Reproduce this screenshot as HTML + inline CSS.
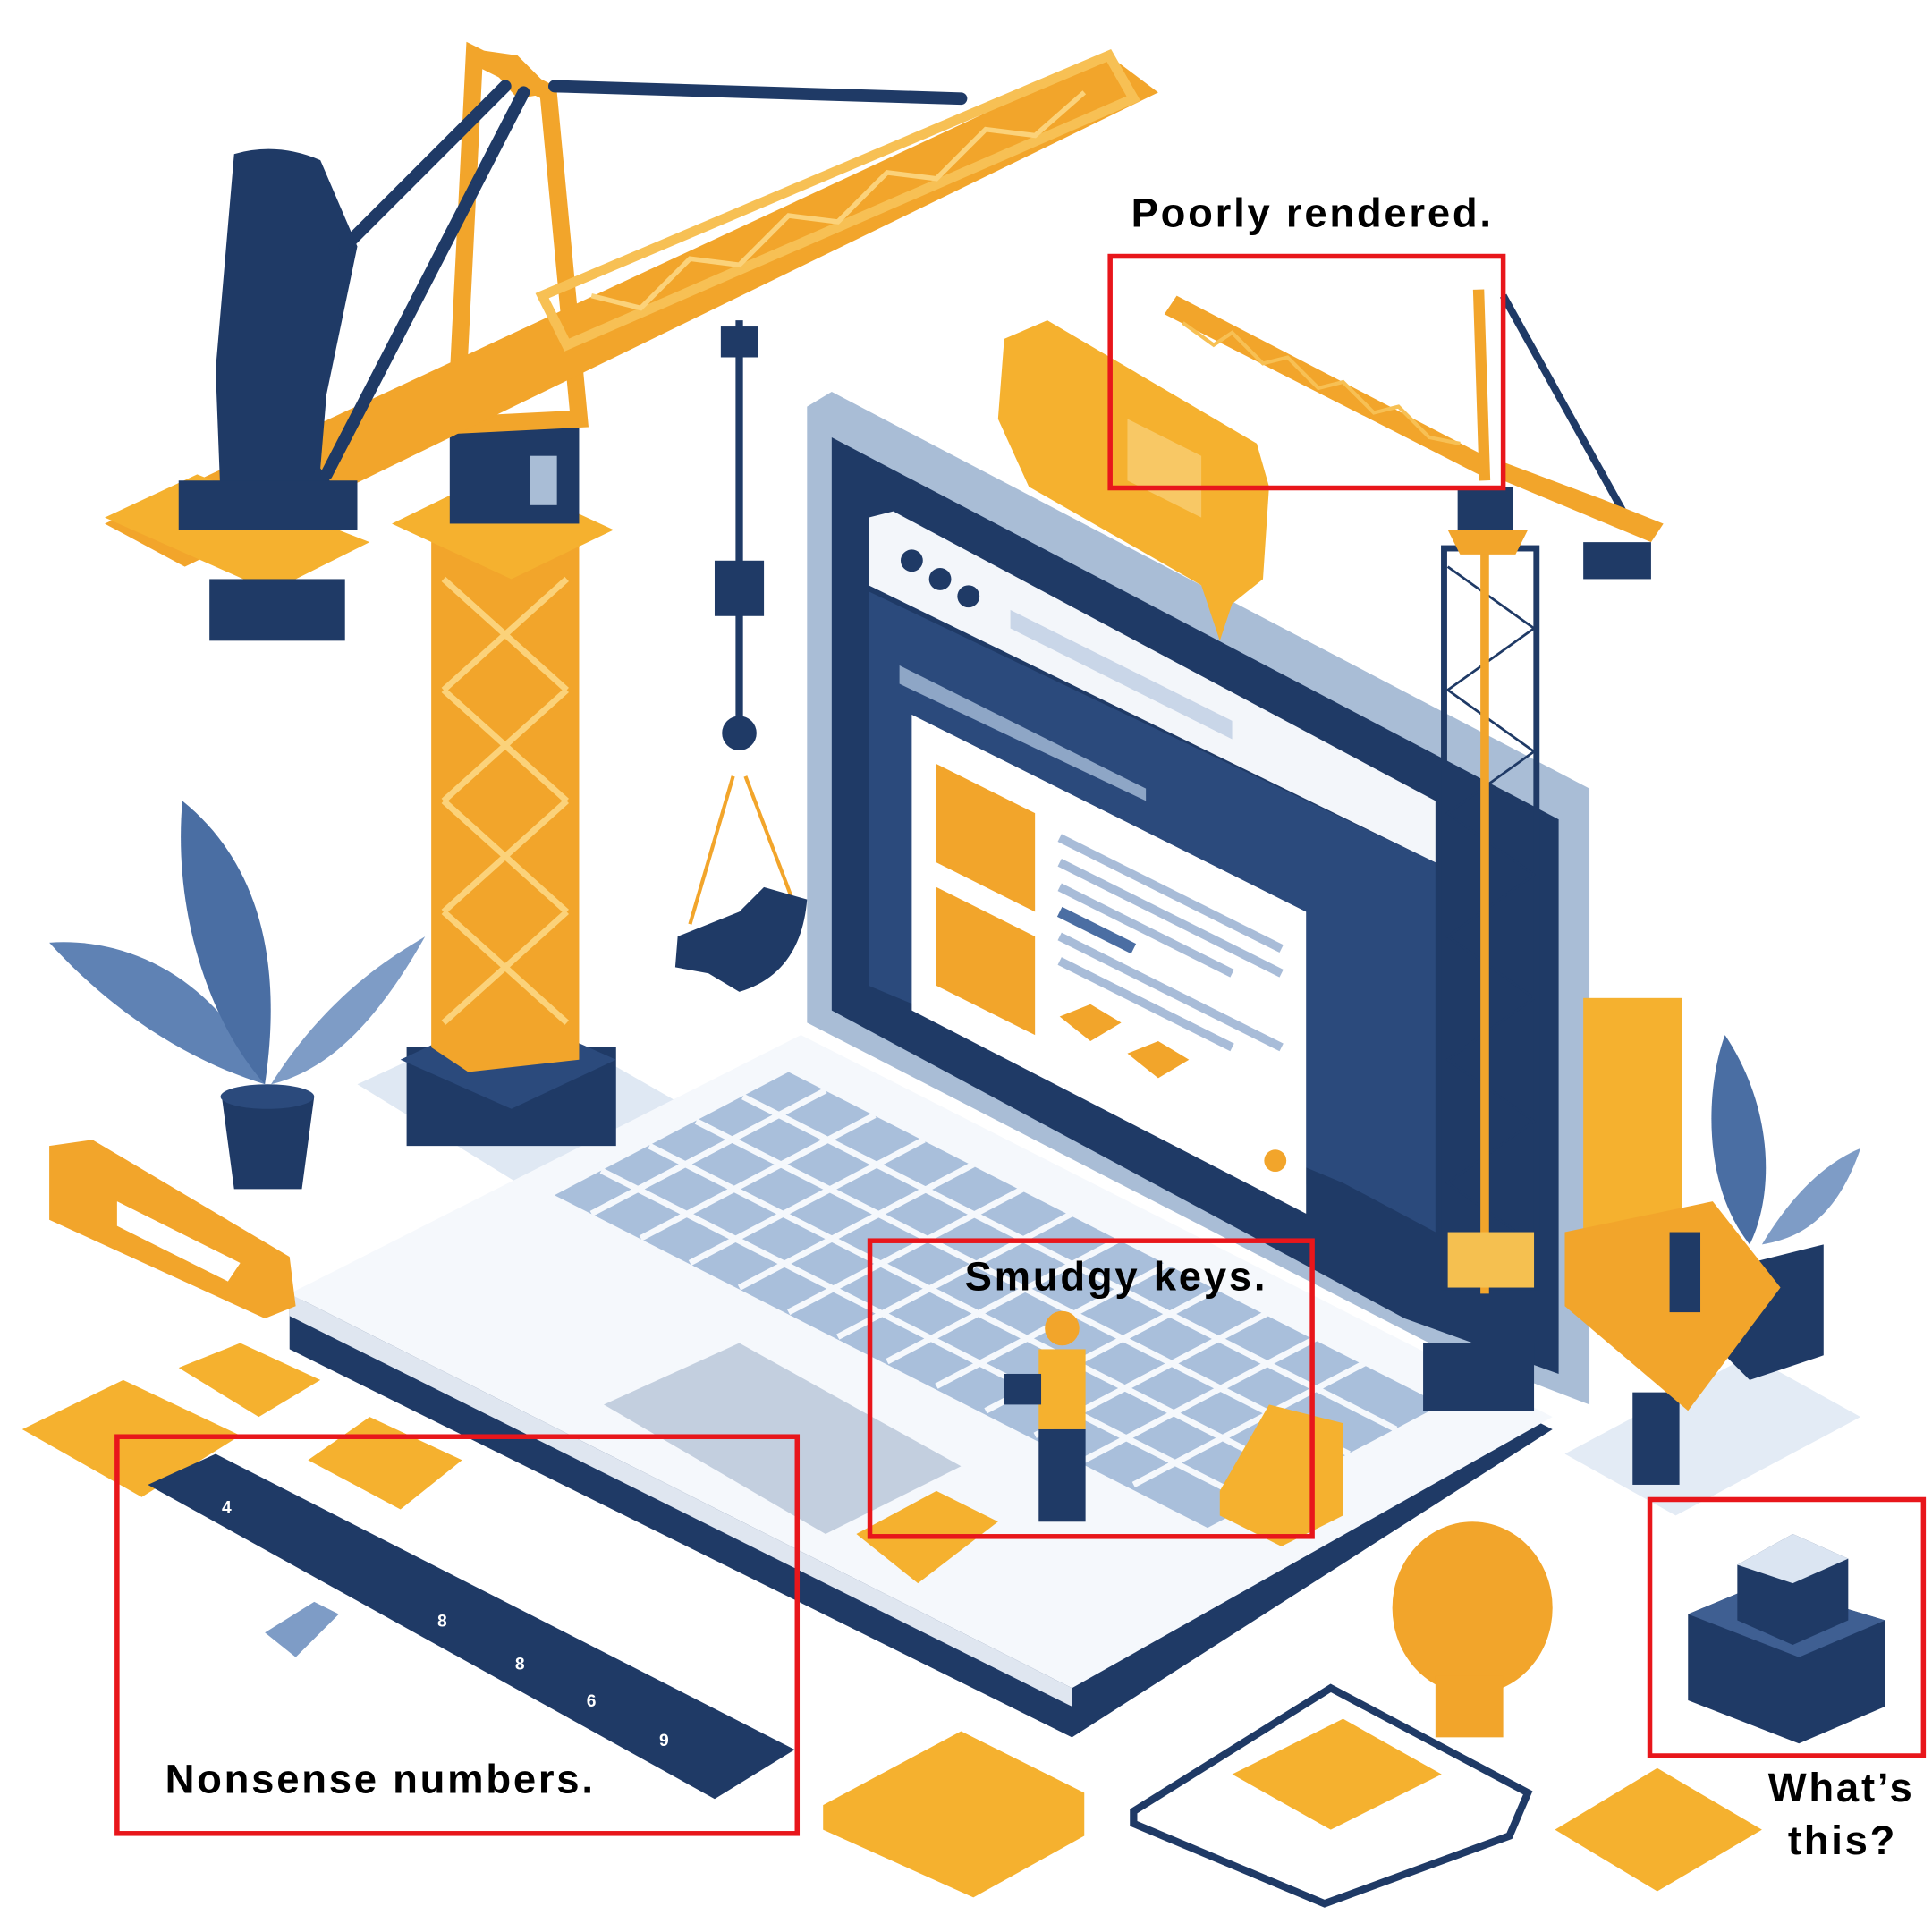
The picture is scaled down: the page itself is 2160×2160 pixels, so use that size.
<!DOCTYPE html>
<html><head><meta charset="utf-8"><style>
html,body{margin:0;padding:0;background:#fff;}
svg{display:block;}
text{font-family:"Liberation Sans",Arial,sans-serif;font-weight:bold;fill:#000;}
</style></head><body>
<svg width="2160" height="2160" viewBox="0 0 1568 1568" xmlns="http://www.w3.org/2000/svg">
<rect width="1568" height="1568" fill="#fff"/>
<polygon points="290,880 420,820 560,900 420,960" fill="#dfe8f3"/>
<polygon points="1270,1180 1420,1100 1510,1150 1360,1230" fill="#e3ebf5"/>
<polygon points="235,1060 650,850 1260,1160 870,1410 235,1095" fill="#1f3a66"/>
<polygon points="235,1050 650,840 1260,1150 870,1370" fill="#f5f8fc"/>
<polygon points="235,1050 870,1370 870,1385 235,1068" fill="#dfe6f0"/>
<polygon points="450,970 640,870 1170,1140 980,1240" fill="#a9bfdb"/>
<g stroke="#f5f8fc" stroke-width="5">
<line x1="480" y1="985" x2="670" y2="885"/><line x1="520" y1="1005" x2="710" y2="905"/>
<line x1="560" y1="1025" x2="750" y2="925"/><line x1="600" y1="1045" x2="790" y2="945"/>
<line x1="640" y1="1065" x2="830" y2="965"/><line x1="680" y1="1085" x2="870" y2="985"/>
<line x1="720" y1="1105" x2="910" y2="1005"/><line x1="760" y1="1125" x2="950" y2="1025"/>
<line x1="800" y1="1145" x2="990" y2="1045"/><line x1="840" y1="1165" x2="1030" y2="1065"/>
<line x1="880" y1="1185" x2="1070" y2="1085"/><line x1="920" y1="1205" x2="1110" y2="1105"/>
<line x1="488" y1="950" x2="1018" y2="1220"/><line x1="527" y1="930" x2="1057" y2="1200"/>
<line x1="565" y1="910" x2="1095" y2="1180"/><line x1="603" y1="890" x2="1133" y2="1160"/>
</g>
<polygon points="490,1140 600,1090 780,1190 670,1245" fill="#c3cfdf"/>
<polygon points="655,330 675,318 1290,640 1290,1140 1160,1090 655,830" fill="#a9bdd6"/>
<polygon points="675,355 1265,665 1265,1115 1140,1070 675,820" fill="#1f3a66"/>
<polygon points="705,420 725,415 1165,650 1165,700 705,475" fill="#f3f6fa"/>
<circle cx="740" cy="455" r="9" fill="#1f3a66"/><circle cx="763" cy="470" r="9" fill="#1f3a66"/><circle cx="786" cy="484" r="9" fill="#1f3a66"/>
<polygon points="820,495 1000,585 1000,600 820,510" fill="#c9d6e8"/>
<polygon points="705,480 1165,700 1165,1000 1090,960 705,800" fill="#2b4a7c"/>
<polygon points="740,580 1060,740 1060,985 740,820" fill="#fff"/>
<polygon points="730,555 930,650 930,640 730,540" fill="#8ea6c6"/>
<polygon points="760,620 840,660 840,740 760,700" fill="#f2a52b"/>
<polygon points="760,720 840,760 840,840 760,800" fill="#f2a52b"/>
<g stroke="#a8bcd8" stroke-width="7"><line x1="860" y1="680" x2="1040" y2="770"/><line x1="860" y1="700" x2="1040" y2="790"/><line x1="860" y1="720" x2="1000" y2="790"/><line x1="860" y1="760" x2="1040" y2="850"/><line x1="860" y1="780" x2="1000" y2="850"/></g>
<line x1="860" y1="740" x2="920" y2="770" stroke="#4b6ea3" stroke-width="9"/>
<polygon points="860,825 885,815 910,830 885,845" fill="#f2a52b"/>
<polygon points="915,855 940,845 965,860 940,875" fill="#f2a52b"/>
<circle cx="1035" cy="942" r="9" fill="#f2a52b"/>
<polygon points="815,275 850,260 1020,360 1030,395 1025,470 1000,490 990,520 975,475 835,395 810,340" fill="#f5b12f"/>
<polygon points="915,340 975,370 975,420 915,390" fill="#f8c865"/>
<rect x="330" y="850" width="170" height="80" fill="#1f3a66"/>
<polygon points="325,860 410,820 500,860 415,900" fill="#2b4a7c"/>
<polygon points="350,440 440,400 470,430 470,860 380,870 350,850" fill="#f2a52b"/>
<g stroke="#fbd27a" stroke-width="5" fill="none">
<path d="M360,470 L460,560 M460,470 L360,560 M360,560 L460,650 M460,560 L360,650 M360,650 L460,740 M460,650 L360,740 M360,740 L460,830 M460,740 L360,830"/>
</g>
<polygon points="318,425 400,385 498,430 415,470" fill="#f5b12f"/>
<rect x="365" y="340" width="105" height="85" fill="#1f3a66"/>
<rect x="430" y="370" width="22" height="40" fill="#a9bdd6"/>
<polygon points="385,45 445,75 470,340 370,345" fill="none" stroke="#f2a52b" stroke-width="14"/>
<polygon points="385,40 420,45 450,75 420,80" fill="#f2a52b"/>
<polygon points="85,425 900,45 940,75 150,460" fill="#f2a52b"/>
<polygon points="440,240 900,45 920,80 460,280" fill="none" stroke="#f7c054" stroke-width="8"/>
<g stroke="#fbd27a" stroke-width="4" fill="none"><path d="M480,240 L520,250 L560,210 L600,215 L640,175 L680,180 L720,140 L760,145 L800,105 L840,110 L880,75"/></g>
<polygon points="85,420 160,385 300,440 220,480" fill="#f5b12f"/>
<path d="M190,125 Q225,115 260,130 L290,200 L265,320 L260,380 L290,420 L180,430 L175,300 Z" fill="#1f3a66"/>
<rect x="145" y="390" width="145" height="40" fill="#1f3a66"/>
<rect x="170" y="470" width="110" height="50" fill="#1f3a66"/>
<g stroke="#1f3a66" stroke-width="10" stroke-linecap="round"><line x1="450" y1="70" x2="780" y2="80"/><line x1="410" y1="70" x2="280" y2="200"/><line x1="425" y1="75" x2="265" y2="385"/></g>
<line x1="600" y1="260" x2="600" y2="600" stroke="#1f3a66" stroke-width="6"/>
<rect x="585" y="265" width="30" height="25" fill="#1f3a66"/>
<rect x="580" y="455" width="40" height="45" fill="#1f3a66"/>
<circle cx="600" cy="595" r="14" fill="#1f3a66"/>
<path d="M595,630 L560,750 M605,630 L645,735" stroke="#f2a52b" stroke-width="3"/>
<path d="M550,760 L600,740 L620,720 L655,730 Q650,790 600,805 L575,790 L548,785 Z" fill="#1f3a66"/>
<rect x="1172" y="445" width="75" height="600" fill="none" stroke="#1f3a66" stroke-width="5"/>
<g stroke="#1f3a66" stroke-width="2" fill="none"><path d="M1175,460 L1245,510 L1175,560 L1245,610 L1175,660 L1245,710 L1175,760 L1245,810 L1175,860 L1245,910 L1175,960 L1245,1010"/></g>
<line x1="1205" y1="440" x2="1205" y2="1050" stroke="#f2a52b" stroke-width="7"/>
<rect x="1175" y="1000" width="70" height="45" fill="#f5c050"/>
<rect x="1155" y="1090" width="90" height="55" fill="#1f3a66"/>
<rect x="1183" y="395" width="45" height="45" fill="#1f3a66"/>
<polygon points="1175,430 1240,430 1230,450 1185,450" fill="#f2a52b"/>
<polygon points="945,255 955,240 1205,370 1200,385" fill="#f2a52b"/>
<g stroke="#f7c054" stroke-width="3" fill="none"><path d="M960,262 L985,280 L1000,270 L1025,295 L1045,290 L1070,315 L1090,310 L1115,335 L1135,330 L1160,355 L1185,360"/></g>
<line x1="1200" y1="235" x2="1205" y2="390" stroke="#f2a52b" stroke-width="9"/>
<line x1="1220" y1="240" x2="1320" y2="420" stroke="#1f3a66" stroke-width="6"/>
<polygon points="1220,375 1300,405 1350,425 1340,440 1220,390" fill="#f2a52b"/>
<rect x="1285" y="440" width="55" height="30" fill="#1f3a66"/>
<rect x="1285" y="810" width="80" height="190" fill="#f5b12f"/>
<path d="M215,880 C180,800 110,760 40,765 C90,820 150,860 215,880 Z" fill="#5f82b4"/>
<path d="M215,880 C230,780 210,700 148,650 C140,740 170,830 215,880 Z" fill="#4a6ea3"/>
<path d="M220,880 C270,800 330,770 345,760 C300,840 260,870 220,880 Z" fill="#7e9cc6"/>
<polygon points="180,890 255,890 245,965 190,965" fill="#1f3a66"/>
<ellipse cx="217" cy="890" rx="38" ry="10" fill="#2b4a7c"/>
<polygon points="40,930 75,925 235,1020 240,1060 215,1070 40,990" fill="#f2a52b"/>
<polygon points="95,975 195,1025 185,1040 95,995" fill="#fff"/>
<polygon points="18,1160 100,1120 195,1165 115,1215" fill="#f5b12f"/>
<polygon points="145,1110 195,1090 260,1120 210,1150" fill="#f5b12f"/>
<polygon points="250,1185 300,1150 375,1185 325,1225" fill="#f5b12f"/>
<polygon points="120,1205 175,1180 645,1420 580,1460" fill="#1f3a66"/>
<g font-size="14"><text x="180" y="1228" style="fill:#fff">4</text><text x="355" y="1320" style="fill:#fff">8</text><text x="418" y="1355" style="fill:#fff">8</text><text x="476" y="1385" style="fill:#fff">6</text><text x="535" y="1417" style="fill:#fff">9</text></g>
<path d="M215,1325 L255,1300 L275,1310 L240,1345 Z" fill="#7e9cc6"/>
<circle cx="862" cy="1078" r="14" fill="#f2a52b"/>
<rect x="843" y="1095" width="38" height="65" fill="#f5b12f"/>
<rect x="843" y="1160" width="38" height="75" fill="#1f3a66"/>
<rect x="815" y="1115" width="30" height="25" fill="#1f3a66"/>
<polygon points="990,1210 1030,1140 1090,1155 1090,1230 1040,1255 990,1230" fill="#f5b12f"/>
<polygon points="695,1245 760,1210 810,1235 745,1285" fill="#f5b12f"/>
<ellipse cx="1195" cy="1305" rx="65" ry="70" fill="#f2a52b"/>
<rect x="1165" y="1360" width="55" height="50" fill="#f2a52b"/>
<polygon points="668,1465 780,1405 880,1455 880,1490 790,1540 668,1485" fill="#f5b12f"/>
<polygon points="920,1470 1080,1370 1240,1455 1225,1490 1075,1545 920,1480" fill="#fff" stroke="#1f3a66" stroke-width="6"/>
<polygon points="1000,1440 1090,1395 1170,1440 1080,1485" fill="#f5b12f"/>
<polygon points="1262,1485 1345,1435 1430,1485 1345,1535" fill="#f5b12f"/>
<path d="M1420,1010 C1380,960 1385,880 1400,840 C1440,900 1440,970 1420,1010 Z" fill="#4a6ea3"/>
<path d="M1430,1010 C1460,960 1490,940 1510,932 C1490,990 1460,1005 1430,1010 Z" fill="#7e9cc6"/>
<polygon points="1400,1030 1480,1010 1480,1100 1420,1120 1400,1100" fill="#1f3a66"/>
<rect x="1325" y="1130" width="38" height="75" fill="#1f3a66"/>
<polygon points="1270,1000 1390,975 1445,1045 1370,1145 1270,1060" fill="#f2a52b"/>
<rect x="1355" y="1000" width="25" height="65" fill="#1f3a66"/>
<polygon points="1370,1310 1430,1285 1530,1315 1530,1385 1460,1415 1370,1380" fill="#1f3a66"/>
<polygon points="1370,1310 1430,1285 1530,1315 1460,1345" fill="#3f5f92"/>
<polygon points="1410,1270 1455,1245 1500,1265 1500,1315 1455,1335 1410,1315" fill="#1f3a66"/>
<polygon points="1410,1270 1455,1245 1500,1265 1455,1285" fill="#dbe5f2"/>
<g fill="none" stroke="#e8161b" stroke-width="4">
<rect x="901" y="208" width="319" height="188"/>
<rect x="706" y="1007" width="359" height="240"/>
<rect x="95" y="1166" width="552" height="322"/>
<rect x="1339" y="1217" width="222" height="208"/>
</g>
<g font-size="33" letter-spacing="2">
<text x="918" y="184">Poorly rendered.</text>
<text x="783" y="1047">Smudgy keys.</text>
<text x="134" y="1455">Nonsense numbers.</text>
<text x="1435" y="1462">What’s</text>
<text x="1451" y="1505">this?</text>
</g>
</svg>
</body></html>
